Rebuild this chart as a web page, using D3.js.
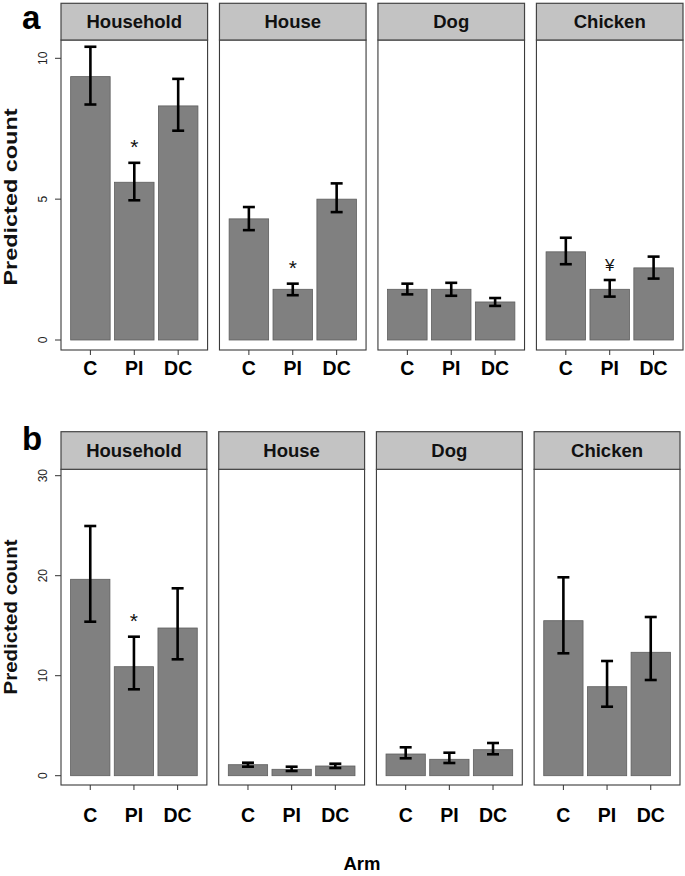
<!DOCTYPE html>
<html>
<head>
<meta charset="utf-8">
<script src="https://cdn.jsdelivr.net/npm/d3@7"></script>
<style>
  html, body { margin: 0; padding: 0; background: #fff; }
  svg { display: block; font-family: "Liberation Sans", Arial, Helvetica, sans-serif; }
</style>
</head>
<body>
<svg id="chart" width="685" height="876"></svg>
<script>
// ---------- data ----------
const facets = ["Household", "House", "Dog", "Chicken"];
const arms = ["C", "PI", "DC"];

// Panel a
const aMean  = [[9.35, 5.60, 8.31], [4.30, 1.80, 5.00], [1.80, 1.80, 1.35], [3.13, 1.80, 2.56]];
const aLower = [[8.36, 4.96, 7.43], [3.90, 1.59, 4.54], [1.62, 1.57, 1.21], [2.69, 1.54, 2.18]];
const aUpper = [[10.41, 6.29, 9.27], [4.72, 2.00, 5.56], [2.00, 2.03, 1.49], [3.63, 2.13, 2.96]];
const aTicks = [0, 5, 10];
const aMarks = [
  { facet: "Household", arm: "PI", sym: "*" },
  { facet: "House", arm: "PI", sym: "*" },
  { facet: "Chicken", arm: "PI", sym: "\u00A5" }
];

// Panel b
const bMean  = [[19.64, 10.90, 14.77], [1.10, 0.64, 0.97], [2.17, 1.64, 2.60], [15.50, 8.90, 12.34]];
const bLower = [[15.40, 8.64, 11.64], [0.90, 0.47, 0.77], [1.74, 1.27, 2.14], [12.24, 6.90, 9.57]];
const bUpper = [[24.97, 13.90, 18.74], [1.30, 0.90, 1.20], [2.84, 2.30, 3.27], [19.84, 11.47, 15.87]];
const bTicks = [0, 10, 20, 30];
const bMarks = [
  { facet: "Household", arm: "PI", sym: "*" }
];

const yTitle = "Predicted count";
const xTitle = "Arm";

// ---------- drawing ----------
const svg = d3.select("#chart");

function drawPanel(cfg) {
  const g = svg.append("g");
  const fx = d3.scaleBand().domain(facets).range(cfg.xRange).paddingInner(0.075);
  const y = d3.scaleLinear().domain(cfg.yDomain).range([cfg.plotBottom, cfg.stripBottom]);

  // panel letter
  g.append("text")
    .attr("x", 22).attr("y", cfg.letterY)
    .attr("font-size", 33).attr("font-weight", "bold").attr("fill", "#000")
    .text(cfg.letter);

  // y title
  g.append("text")
    .attr("transform", `translate(16.5,${cfg.yTitleY}) rotate(-90)`)
    .attr("text-anchor", "middle")
    .attr("font-size", 19).attr("font-weight", "bold").attr("fill", "#111")
    .attr("textLength", cfg.yTitleLen).attr("lengthAdjust", "spacingAndGlyphs")
    .text(yTitle);

  // y ticks (left panel only)
  const x0 = fx(facets[0]);
  cfg.ticks.forEach(t => {
    g.append("line")
      .attr("x1", x0 - 6).attr("x2", x0)
      .attr("y1", y(t)).attr("y2", y(t))
      .attr("stroke", "#333").attr("stroke-width", 1);
    g.append("text")
      .attr("transform", `translate(${x0 - 14},${y(t)}) rotate(-90)`)
      .attr("text-anchor", "middle")
      .attr("font-size", 12).attr("fill", "#222")
      .text(t);
  });

  facets.forEach((f, fi) => {
    const px = fx(f), pw = fx.bandwidth();
    const xb = d3.scaleBand().domain(arms).range([px, px + pw]).paddingInner(0.1).paddingOuter(0.22);
    const pg = g.append("g");

    // panel background + border
    pg.append("rect")
      .attr("x", px).attr("y", cfg.stripBottom)
      .attr("width", pw).attr("height", cfg.plotBottom - cfg.stripBottom)
      .attr("fill", "#fff").attr("stroke", "#3a3a3a").attr("stroke-width", 1.1);

    // strip
    pg.append("rect")
      .attr("x", px).attr("y", cfg.stripTop)
      .attr("width", pw).attr("height", cfg.stripBottom - cfg.stripTop)
      .attr("fill", "#c3c3c3").attr("stroke", "#444").attr("stroke-width", 1.2);
    pg.append("text")
      .attr("x", px + pw / 2).attr("y", (cfg.stripTop + cfg.stripBottom) / 2 + 6.5)
      .attr("text-anchor", "middle")
      .attr("font-size", 18.5).attr("font-weight", "bold").attr("fill", "#111")
      .text(f);

    // bars
    arms.forEach((a, ai) => {
      const m = cfg.mean[fi][ai], lo = cfg.lower[fi][ai], hi = cfg.upper[fi][ai];
      const bx = xb(a), bw = xb.bandwidth(), cx = bx + bw / 2;
      pg.append("rect")
        .attr("x", bx).attr("y", y(m))
        .attr("width", bw).attr("height", y(0) - y(m))
        .attr("fill", "#808080").attr("stroke", "#5e5e5e").attr("stroke-width", 0.8);
      // error bar
      const cap = 6;
      pg.append("line").attr("x1", cx).attr("x2", cx).attr("y1", y(hi)).attr("y2", y(lo))
        .attr("stroke", "#000").attr("stroke-width", 2.6);
      pg.append("line").attr("x1", cx - cap).attr("x2", cx + cap).attr("y1", y(hi)).attr("y2", y(hi))
        .attr("stroke", "#000").attr("stroke-width", 2.6);
      pg.append("line").attr("x1", cx - cap).attr("x2", cx + cap).attr("y1", y(lo)).attr("y2", y(lo))
        .attr("stroke", "#000").attr("stroke-width", 2.6);

      // x tick + label
      pg.append("line").attr("x1", cx).attr("x2", cx)
        .attr("y1", cfg.plotBottom).attr("y2", cfg.plotBottom + 5)
        .attr("stroke", "#333").attr("stroke-width", 1);
      pg.append("text")
        .attr("x", cx).attr("y", cfg.tickLabelY)
        .attr("text-anchor", "middle")
        .attr("font-size", 19.5).attr("font-weight", "bold").attr("fill", "#000")
        .text(a);
    });

    // significance marks
    cfg.marks.filter(mk => mk.facet === f).forEach(mk => {
      const ai = arms.indexOf(mk.arm);
      const cx = xb(mk.arm) + xb.bandwidth() / 2;
      pg.append("text")
        .attr("x", cx).attr("y", y(cfg.upper[fi][ai]) - 9)
        .attr("text-anchor", "middle")
        .attr("font-size", mk.sym === "*" ? 21 : 17).attr("fill", "#111")
        .text(mk.sym);
    });
  });
}

drawPanel({
  letter: "a", letterY: 29,
  mean: aMean, lower: aLower, upper: aUpper, ticks: aTicks, marks: aMarks,
  yDomain: [-0.355, 10.65],
  xRange: [61, 683],
  stripTop: 3.3, stripBottom: 40, plotBottom: 350,
  tickLabelY: 375, yTitleY: 197, yTitleLen: 177
});

drawPanel({
  letter: "b", letterY: 450,
  mean: bMean, lower: bLower, upper: bUpper, ticks: bTicks, marks: bMarks,
  yDomain: [-0.93, 30.64],
  xRange: [61, 680],
  stripTop: 431.7, stripBottom: 469.3, plotBottom: 785,
  tickLabelY: 822, yTitleY: 617, yTitleLen: 155
});

svg.append("text")
  .attr("x", 362).attr("y", 870)
  .attr("text-anchor", "middle")
  .attr("font-size", 18.5).attr("font-weight", "bold").attr("fill", "#000")
  .text(xTitle);
</script>
</body>
</html>
